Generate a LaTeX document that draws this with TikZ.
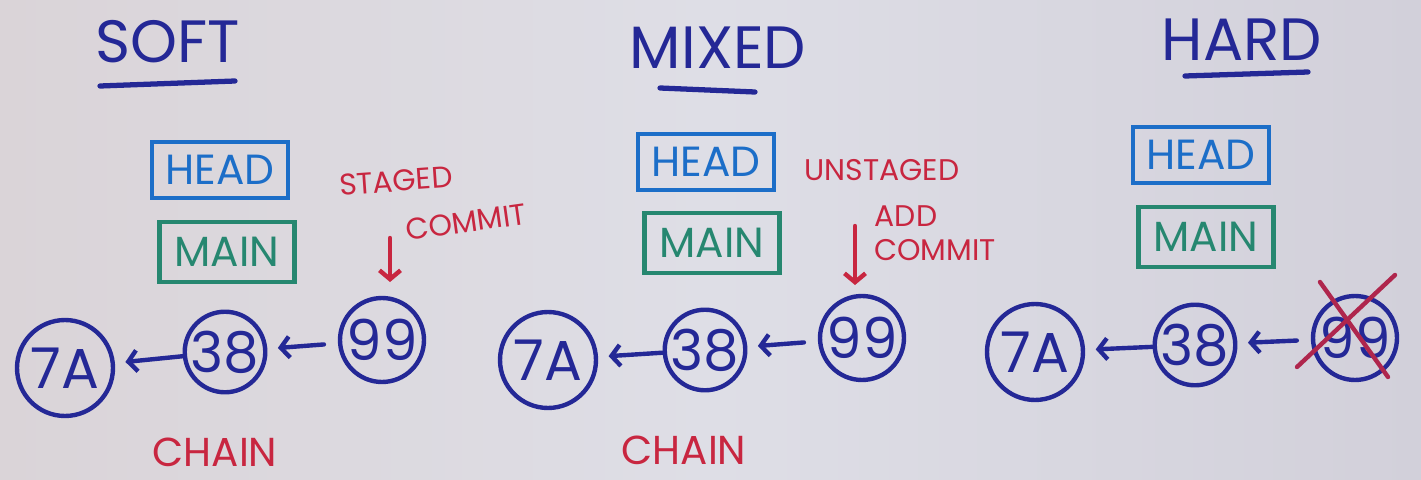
\documentclass[tikz,border=0pt]{standalone}
\usepackage{fontspec}
\setmainfont{Poppins}
\usetikzlibrary{arrows.meta}
\definecolor{ink}{RGB}{36,40,150}
\definecolor{headblue}{RGB}{28,110,200}
\definecolor{maingreen}{RGB}{38,135,112}
\definecolor{redink}{RGB}{200,38,64}
\definecolor{bgL}{RGB}{218,212,216}
\definecolor{bgM}{RGB}{222,222,230}
\definecolor{bgR}{RGB}{210,208,218}
\begin{document}
\begin{tikzpicture}[x=0.02cm,y=-0.02cm,
  title/.style={text=ink,font=\fontsize{34}{36}\selectfont,inner sep=0},
  uline/.style={draw=ink,line width=3pt,line cap=round},
  headbox/.style={draw=headblue,line width=2.5pt,text=headblue,minimum width=2.72cm,minimum height=1.12cm,inner sep=0,font=\fontsize{24}{26}\selectfont},
  mainbox/.style={draw=maingreen,line width=2.5pt,text=maingreen,minimum width=2.7cm,minimum height=1.2cm,inner sep=0,font=\fontsize{24}{26}\selectfont},
  commit/.style={circle,draw=ink,line width=2.5pt,text=ink,inner sep=0,font=\fontsize{32}{34}\selectfont},
  big/.style={commit,minimum size=1.92cm},
  mid/.style={commit,minimum size=1.6cm},
  top/.style={commit,minimum size=1.68cm},
  arr/.style={draw=ink,line width=2.5pt,line cap=round,-{Straight Barb[length=5pt,width=12pt,line width=2.5pt]}},
  rarr/.style={draw=redink,line width=2.5pt,line cap=round,-{Straight Barb[length=5pt,width=12pt,line width=2.5pt]}},
  note/.style={text=redink,font=\fontsize{17}{18}\selectfont,inner sep=0,align=left},
  chain/.style={text=redink,font=\fontsize{23}{25}\selectfont,inner sep=0},
  cross/.style={draw=redink!85!ink,line width=2.5pt,line cap=round}
]
\useasboundingbox (0,0) rectangle (1421,480);
\shade[left color=bgL,right color=bgR,middle color=bgM] (0,0) rectangle (1421,480);

% titles
\node[title] (soft) at (168,42) {SOFT};
\node[title] (mixed) at (718,48) {MIXED};
\node[title] (hard) at (1242,40) {HARD};
\coordinate (su1) at (100,86); \coordinate (su2) at (235,81);
\coordinate (mu1) at (660,88); \coordinate (mu2) at (755,92);
\coordinate (hu1) at (1185,76); \coordinate (hu2) at (1308,72);
\draw[uline] (su1) -- (su2);
\draw[uline] (mu1) -- (mu2);
\draw[uline] (hu1) -- (hu2);

% HEAD / MAIN boxes
\node[headbox] (headS) at (220,170) {HEAD};
\node[headbox] (headM) at (706,162) {HEAD};
\node[headbox] (headH) at (1201,155) {HEAD};
\node[mainbox] (mainS) at (227,252) {MAIN};
\node[mainbox] (mainM) at (712,243) {MAIN};
\node[mainbox] (mainH) at (1206,237) {MAIN};

% commits: soft
\node[big] (aS) at (65,368) {7A};
\node[mid] (bS) at (225,352) {38};
\node[top] (cS) at (382,340) {99};
% commits: mixed
\node[big] (aM) at (548,360) {7A};
\node[mid] (bM) at (705,350) {38};
\node[top] (cM) at (862,338) {99};
% commits: hard
\node[big] (aH) at (1035,352) {7A};
\node[mid] (bH) at (1195,345) {38};
\node[top] (cH) at (1355,338) {99};

\foreach \s in {S,M,H}{
  \draw[arr,shorten >=6pt] (b\s) -- (a\s);
  \draw[arr,shorten >=6pt,shorten <=8pt] (c\s) -- (b\s);
}

% red cross on hard 99
\coordinate (x1a) at ([shift={(-35,-56)}]cH.center);
\coordinate (x1b) at ([shift={(33,39)}]cH.center);
\coordinate (x2a) at ([shift={(40,-63)}]cH.center);
\coordinate (x2b) at ([shift={(-58,29)}]cH.center);
\draw[cross] (x1a) -- (x1b);
\draw[cross] (x2a) -- (x2b);

% red notes: soft
\node[note,rotate=4] (stagedS) at (396,181) {STAGED};
\node[note,rotate=8] (commitS) at (466,222) {COMMIT};
\coordinate (dsA) at (390,238); \coordinate (dsB) at (390,282);
\draw[rarr] (dsA) -- (dsB);
% red notes: mixed
\node[note] (unstagedM) at (882,170) {UNSTAGED};
\node[note] (addM) at (906,216) {ADD};
\node[note] (commitM) at (935,250) {COMMIT};
\coordinate (dmA) at (855,226); \coordinate (dmB) at (855,285);
\draw[rarr] (dmA) -- (dmB);

% chain labels
\node[chain] (chainS) at (215,452) {CHAIN};
\node[chain] (chainM) at (684,450) {CHAIN};
\end{tikzpicture}
\end{document}
